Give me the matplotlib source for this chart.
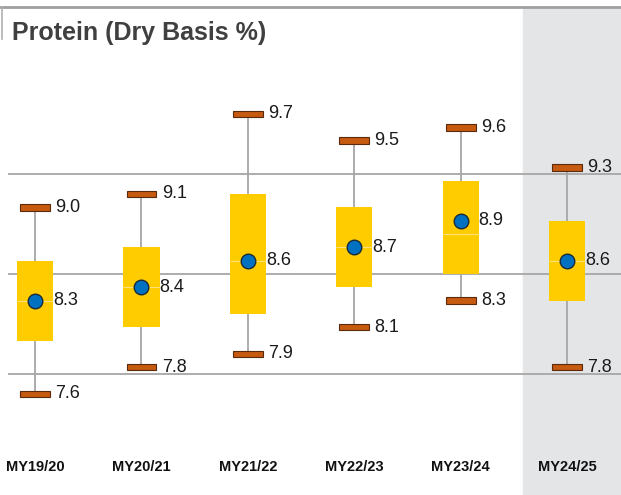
import matplotlib.pyplot as plt
import numpy as np
from matplotlib import font_manager

# protein stats per marketing year
years = ["MY19/20", "MY20/21", "MY21/22", "MY22/23", "MY23/24", "MY24/25"]
maxs = [9.0, 9.1, 9.7, 9.5, 9.6, 9.3]
q3 = [8.6, 8.7, 9.1, 9.0, 9.2, 8.9]
medians = [8.3, 8.4, 8.6, 8.7, 8.8, 8.6]
means = [8.3, 8.4, 8.6, 8.7, 8.9, 8.6]
q1 = [8.0, 8.1, 8.2, 8.4, 8.5, 8.3]
mins = [7.6, 7.8, 7.9, 8.1, 8.3, 7.8]
grid_vals = [7.75, 8.5, 9.25]

names = {f.name for f in font_manager.fontManager.ttflist}
narrow = "Liberation Sans Narrow" if "Liberation Sans Narrow" in names else "Liberation Sans"

fig = plt.figure(figsize=(6.21, 4.95), dpi=100)
ax = fig.add_axes([0, 0, 1, 1])
ax.set_xlim(-0.329, 5.507)
ax.set_ylim(6.842, 10.555)
ax.axis("off")

x = np.arange(len(years))
top_frac = (495 - 7) / 495

# shaded current year
ax.axvspan(4.586, 5.498, ymin=0, ymax=top_frac, color="#E4E5E7", zorder=0)

# frame bits
ax.axhline(ax.get_ylim()[0] + top_frac * (10.555 - 6.842), color="#A0A0A0", lw=2, zorder=1)
ax.plot([-0.31, -0.31], [10.50, 10.26], color="#B0B0B0", lw=1.2, zorder=1)

ax.hlines(grid_vals, -0.254, 5.507, color="#A6A6A6", lw=1.3, zorder=1)

ax.vlines(x, mins, maxs, color="#A6A6A6", lw=1.3, zorder=2)

box_w = 0.34
ax.bar(x, np.array(q3) - np.array(q1), bottom=q1, width=box_w, color="#FFCC00", zorder=3)
ax.hlines(medians, x - box_w / 2, x + box_w / 2, color="#FFE27A", lw=0.8, zorder=3.5)

cap_h = 0.048
cap_w = 0.28
for vals in (maxs, mins):
    ax.bar(x, cap_h, bottom=np.array(vals) - cap_h / 2, width=cap_w,
           color="#C55A11", edgecolor="#5A2A0A", lw=0.8, zorder=4)

ax.scatter(x, means, s=110, color="#0070C0", edgecolor="#1A2A3A", lw=1, zorder=5)

lab = dict(fontsize=13, family=narrow, color="#1A1A1A", va="center", ha="left", zorder=6)
for i in x:
    ax.text(i + 0.19, maxs[i], f"{maxs[i]:.1f}", **lab)
    ax.text(i + 0.17, means[i], f"{means[i]:.1f}", **lab)
    ax.text(i + 0.19, mins[i], f"{mins[i]:.1f}", **lab)

for i, name in enumerate(years):
    ax.text(x[i], 0.057, name, transform=ax.get_xaxis_transform(), ha="center", va="center",
            fontsize=10.5, fontweight="bold", family="Liberation Sans", color="#111111")

fig.text(12 / 621, 1 - 33 / 495, "Protein (Dry Basis %)", fontsize=18, fontweight="bold",
         family="Liberation Sans", color="#404040", va="center", ha="left")

fig.savefig("out.png", dpi=100)
